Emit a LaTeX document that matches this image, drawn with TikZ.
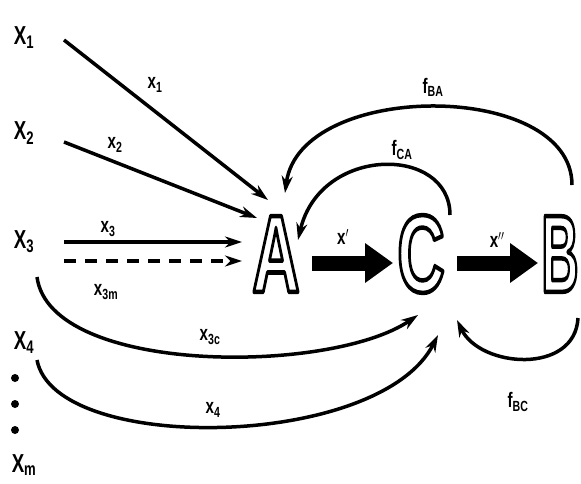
\documentclass[tikz,border=0pt]{standalone}
\usepackage{fontspec}
\setmainfont{Liberation Sans}
\usetikzlibrary{arrows.meta,calc}
\tikzset{
  big/.style={font=\bfseries\fontsize{26}{26}\selectfont, inner sep=0pt},
  lbl/.style={font=\bfseries\fontsize{21}{21}\selectfont, inner sep=0pt},
  letter/.style={font=\bfseries\fontsize{110}{110}\selectfont, inner sep=0pt},
  arr/.style={line width=3.5pt, -{Stealth[length=17pt,width=11pt]}},
  darr/.style={arr, dash pattern=on 12pt off 9pt},
  fat/.style={line width=15pt, -{Triangle[length=28pt,width=38pt]}},
  dot/.style={circle, fill=black, inner sep=0pt, minimum size=8pt},
}
\newcommand{\sx}[1]{\scalebox{0.72}[1]{#1}}
\newcommand{\outl}[2]{\scalebox{#1}[1]{\special{pdf:code q 1 Tr 4.5 w 1 j}#2\special{pdf:code Q}}}
\begin{document}
\begin{tikzpicture}[x=1pt,y=-1pt]
\useasboundingbox (0,0) rectangle (581,484);
% big labels
\node[big] (X1) at (24,38) {\sx{X\textsubscript{1}}};
\node[big] (X2) at (24,133) {\sx{X\textsubscript{2}}};
\node[big] (X3) at (24,242) {\sx{X\textsubscript{3}}};
\node[big] (X4) at (24,343) {\sx{X\textsubscript{4}}};
\node[dot] (d1) at (15,378) {};
\node[dot] (d2) at (15,404) {};
\node[dot] (d3) at (15,430) {};
\node[big] (Xm) at (24,465) {\sx{X\textsubscript{m}}};
% letters
\node[letter] (A) at (276,254) {\outl{0.6}{A}};
\node[letter] (C) at (421,254) {\outl{0.6}{C}};
\node[letter] (B) at (560,254) {\outl{0.47}{B}};
% inputs
\draw[arr] ($(X1)+(40,2)$) -- ($(A)+(-8,-54)$);
\draw[arr] ($(X2)+(40,9)$) -- ($(A)+(-19,-36)$);
\draw[arr] ($(X3)+(40,0)$) -- ($(A)+(-34,-12)$);
\draw[darr] ($(X3)+(40,19)$) -- ($(A)+(-34,7)$);
\draw[arr] ($(X3)+(13,35)$) .. controls (50,375) and (330,375) .. ($(C)+(-3,61)$);
\draw[arr] ($(X4)+(13,17)$) .. controls (55,455) and (380,450) .. ($(C)+(17,81)$);
% main flow
\draw[fat] ($(A)+(36,9)$) -- ($(C)+(-28,9)$);
\draw[fat] ($(C)+(36,9)$) -- ($(B)+(-22,9)$);
% feedback
\draw[arr] ($(B)+(12,-69)$) .. controls (572,80) and (300,80) .. ($(A)+(9,-61)$);
\draw[arr] ($(C)+(29,-39)$) .. controls (450,145) and (320,145) .. ($(A)+(22,-14)$);
\draw[arr] ($(B)+(18,64)$) .. controls (575,375) and (480,368) .. ($(C)+(36,66)$);
% edge labels
\node[lbl] (l1) at (155,85) {\sx{x\textsubscript{1}}};
\node[lbl] (l2) at (115,145) {\sx{x\textsubscript{2}}};
\node[lbl] (l3) at (108,229) {\sx{x\textsubscript{3}}};
\node[lbl] (l3m) at (106,292) {\sx{x\textsubscript{3m}}};
\node[lbl] (l3c) at (210,337) {\sx{x\textsubscript{3c}}};
\node[lbl] (l4) at (213,410) {\sx{x\textsubscript{4}}};
\node[lbl] (lp) at (343,237) {\sx{x$'$}};
\node[lbl] (lpp) at (497,240) {\sx{x$''$}};
\node[lbl] (lba) at (433,87) {\sx{f\textsubscript{BA}}};
\node[lbl] (lca) at (402,150) {\sx{f\textsubscript{CA}}};
\node[lbl] (lbc) at (518,402) {\sx{f\textsubscript{BC}}};
\end{tikzpicture}
\end{document}
